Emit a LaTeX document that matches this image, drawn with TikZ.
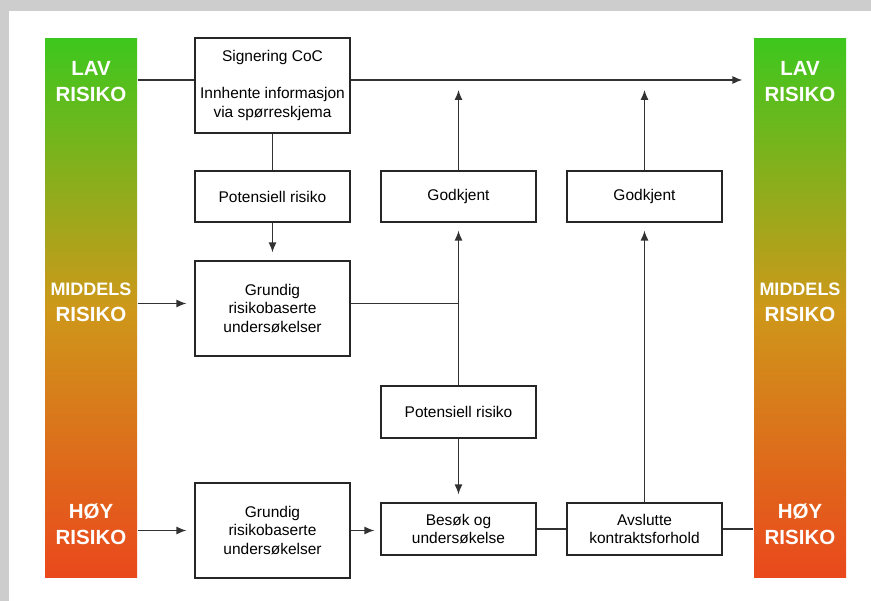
\documentclass[tikz,border=0pt]{standalone}
\usepackage{fontspec}
\setmainfont{Liberation Sans}
\usetikzlibrary{arrows.meta,positioning}

\definecolor{lowgreen}{RGB}{62,199,30}
\definecolor{midgold}{RGB}{206,152,26}
\definecolor{highred}{RGB}{234,72,28}
\definecolor{framegray}{RGB}{205,205,205}
\definecolor{linegray}{RGB}{50,50,50}

\begin{document}
\begin{tikzpicture}[x=1pt, y=-1pt,
      ->, >={Latex[length=10pt,width=8pt]}, on grid, node distance=100pt,
      line width=1.25pt, draw=linegray,
      flow/.style={shorten >=8pt},
      box/.style={rectangle, draw=black!85, line width=1.2pt, minimum width=155pt, align=center,
                  inner sep=2pt, font=\fontsize{15.5}{18.5}\selectfont},
      bar/.style={rectangle, minimum width=92pt, minimum height=539pt, inner sep=0pt,
                  top color=lowgreen, bottom color=highred, middle color=midgold},
      risk/.style={text=white, align=center, inner sep=0pt,
                  font=\bfseries\fontsize{20.5}{26}\selectfont}]

      \useasboundingbox (0,0) rectangle (871,601);
      \fill[framegray, -] (0,0) rectangle (871,601);
      \fill[white, -] (9,11) rectangle (871,601);

      % Risk bars
      \node[bar] (lbar) at (91,308.5) {};
      \node[bar] (rbar) at (800,308.5) {};
      \node[risk] (llav) at ([yshift=-43pt]lbar.north) {LAV\\RISIKO};
      \node[risk] (rlav) at ([yshift=-43pt]rbar.north) {LAV\\RISIKO};
      \node[risk] (lmid) at ([yshift=6pt]lbar.center) {{\fontsize{18}{25}\selectfont MIDDELS}\\RISIKO};
      \node[risk] (rmid) at ([yshift=6pt]rbar.center) {{\fontsize{18}{25}\selectfont MIDDELS}\\RISIKO};
      \node[risk] (lhigh) at ([yshift=54pt]lbar.south) {HØY\\RISIKO};
      \node[risk] (rhigh) at ([yshift=54pt]rbar.south) {HØY\\RISIKO};

      % Nodes
      \node[box, minimum height=95pt] (sig) at (272.5,85.5) {Signering CoC\\[18.5pt]Innhente informasjon\\via spørreskjema};
      \node[box, minimum height=51pt, below=111pt of sig] (pot1) {Potensiell risiko};
      \node[box, minimum height=95pt, below=112pt of pot1] (grund1) {Grundig\\risikobaserte\\undersøkelser};
      \node[box, minimum height=95pt, below=222pt of grund1] (grund2) {Grundig\\risikobaserte\\undersøkelser};
      \node[box, minimum height=51pt, right=186pt of pot1] (god1) {Godkjent};
      \node[box, minimum height=51pt, right=186pt of god1] (god2) {Godkjent};
      \node[box, minimum height=52pt, below=215.5pt of god1] (pot2) {Potensiell risiko};
      \node[box, minimum height=52pt, below=117pt of pot2] (besok) {Besøk og\\undersøkelse};
      \node[box, minimum height=52pt, right=186pt of besok] (avslutt) {Avslutte\\kontraktsforhold};

      \coordinate (top) at ([yshift=5.5pt]sig.east);
      \coordinate (mid) at ([yshift=5pt]grund1.west);
      \coordinate (join) at ([yshift=5pt]grund1.east);

      % Edges
      \path (lbar.east |- top) edge[-] (sig.west |- top)
            (top) edge[flow, shorten >=11pt] (rbar.west |- top)
            (sig) edge[-] (pot1)
            (pot1) edge[flow] (grund1)
            (lbar.east |- mid) edge[flow] (mid)
            (join) edge[-] (join -| pot2.north)
            (pot2) edge[flow] (god1)
            (god1) edge[flow, shorten >=10pt] (god1.north |- top)
            (pot2) edge[flow] (besok)
            (lbar.east |- grund2.west) edge[flow] (grund2)
            (grund2) edge[flow, shorten >=6pt] (grund2.east -| besok.west)
            (besok) edge[-] (avslutt)
            (avslutt) edge[-] (rbar.west |- avslutt.east)
            (avslutt) edge[flow] (god2)
            (god2) edge[flow, shorten >=10pt] (god2.north |- top)
            ;

    \end{tikzpicture}
\end{document}
